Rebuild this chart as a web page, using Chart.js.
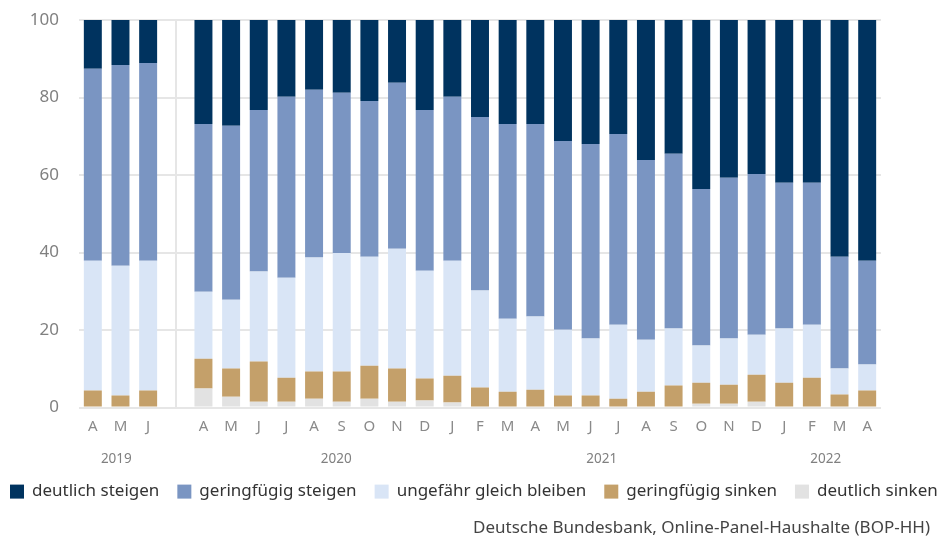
<!DOCTYPE html>
<html>
<head>
<meta charset="utf-8">
<script src="https://cdn.jsdelivr.net/npm/chart.js@4/dist/chart.umd.min.js"></script>
<style>
  html, body { margin: 0; padding: 0; background: #fff; }
  #wrap { width: 939px; height: 540px; }
</style>
</head>
<body>
<div id="wrap"><canvas id="chart"></canvas></div>
<script>
// Monate (leere Kategorie = Lücke zwischen 2019 und 2020)
const months = ["A", "M", "J", "", "A", "M", "J", "J", "A", "S", "O", "N", "D",
  "J", "F", "M", "A", "M", "J", "J", "A", "S", "O", "N", "D", "J", "F", "M", "A"];
const years = ["2019", "2020", "2021", "2022"];
const yTicks = [0, 20, 40, 60, 80, 100];

// Anteile in %, von unten nach oben gestapelt
const deutlichSinken = [0, 0, 0, null, 4.9, 2.8, 1.5, 1.5, 2.3, 1.5, 2.3, 1.5, 1.8,
  1.3, 0, 0, 0, 0, 0, 0, 0, 0, 1.0, 1.0, 1.5, 0, 0, 0, 0];
const geringSinken = [4.4, 3.1, 4.4, null, 7.7, 7.3, 10.4, 6.2, 7.0, 7.8, 8.5, 8.6, 5.7,
  6.9, 5.2, 4.1, 4.6, 3.1, 3.1, 2.3, 4.1, 5.7, 5.4, 4.9, 7.0, 6.4, 7.7, 3.4, 4.4];
const gleich = [33.5, 33.5, 33.5, null, 17.3, 17.7, 23.2, 25.8, 29.4, 30.6, 28.1, 30.9, 27.8,
  29.7, 25.0, 18.8, 18.9, 17.0, 14.7, 19.1, 13.4, 14.7, 9.6, 11.9, 10.3, 14.0, 13.7, 6.7, 6.7];
const geringSteigen = [49.5, 51.8, 51.0, null, 43.3, 44.9, 41.7, 46.7, 43.3, 41.3, 40.2, 42.8, 41.5,
  42.3, 44.8, 50.3, 49.7, 48.7, 50.2, 49.2, 46.4, 45.1, 40.4, 41.5, 41.5, 37.6, 36.6, 28.8, 26.8];
const deutlichSteigen = [12.6, 11.6, 11.1, null, 26.8, 27.3, 23.2, 19.8, 18.0, 18.8, 20.9, 16.2, 23.2,
  19.8, 25.0, 26.8, 26.8, 31.2, 32.0, 29.4, 36.1, 34.5, 43.6, 40.7, 39.7, 42.0, 42.0, 61.1, 62.1];

const FONT = "'Noto Sans', 'Open Sans', sans-serif";

// Jahresbeschriftung unter den Monaten (Position als Kategorie-Index)
const yearAt = [0.85, 8.8, 18.4, 26.5];
const yearPlugin = {
  id: "years",
  afterDraw(chart) {
    const x = chart.scales.x;
    const c = chart.ctx;
    c.save();
    c.font = "13.5px " + FONT;
    c.fillStyle = "#808080";
    c.textAlign = "center";
    c.textBaseline = "middle";
    years.forEach((y, i) => {
      c.fillText(y, x.getPixelForValue(yearAt[i]), x.bottom - 10);
    });
    c.restore();
  }
};

// Legende in einer Zeile (die eingebaute bricht bei dieser Breite um)
const legendPlugin = {
  id: "rowLegend",
  afterDraw(chart) {
    const c = chart.ctx;
    const y = chart.scales.x.bottom + 22;
    let x = 10;
    c.save();
    c.font = "17px " + FONT;
    c.textBaseline = "middle";
    c.textAlign = "left";
    chart.data.datasets.slice().reverse().forEach((ds) => {
      c.fillStyle = ds.backgroundColor;
      c.fillRect(x, y - 7, 14, 14);
      x += 14 + 8;
      c.fillStyle = "#333";
      c.fillText(ds.label, x, y);
      x += c.measureText(ds.label).width + 18;
    });
    c.restore();
  }
};

new Chart(document.getElementById("chart"), {
  type: "bar",
  data: {
    labels: months,
    datasets: [
      { label: "deutlich sinken", data: deutlichSinken, backgroundColor: "#e2e2e2" },
      { label: "geringfügig sinken", data: geringSinken, backgroundColor: "#c4a06a" },
      { label: "ungefähr gleich bleiben", data: gleich, backgroundColor: "#d9e5f6" },
      { label: "geringfügig steigen", data: geringSteigen, backgroundColor: "#7a95c2" },
      { label: "deutlich steigen", data: deutlichSteigen, backgroundColor: "#00335f" }
    ]
  },
  plugins: [yearPlugin, legendPlugin],
  options: {
    responsive: true,
    maintainAspectRatio: false,
    animation: false,
    datasets: { bar: { barPercentage: 0.65, categoryPercentage: 1 } },
    layout: { padding: { top: 0, left: 0, right: 9, bottom: 0 } },
    scales: {
      x: {
        stacked: true,
        grid: {
          offset: false,
          drawTicks: false,
          color: (ctx) => (months[ctx.index] === "" ? "#e6e6e6" : "transparent"),
          lineWidth: 2
        },
        border: { display: false },
        ticks: { color: "#8a8a8a", font: { family: FONT, size: 15 }, padding: 10, autoSkip: false, maxRotation: 0 },
        afterFit: (s) => { s.height = 62; }
      },
      y: {
        stacked: true,
        min: 0,
        max: 100,
        afterBuildTicks: (s) => { s.ticks = yTicks.map((v) => ({ value: v })); },
        grid: { color: "#e6e6e6", lineWidth: 2, drawTicks: false },
        border: { display: false },
        ticks: { color: "#808080", font: { family: FONT, size: 17 }, padding: 20 },
        afterFit: (s) => { s.width = 79; s.paddingTop = 20; s.paddingBottom = 0; }
      },
      yR: {
        position: "right",
        display: true,
        grid: { display: false, drawTicks: false },
        border: { display: false },
        ticks: { display: false },
        afterFit: (s) => { s.width = 49; s.paddingTop = 0; s.paddingBottom = 0; }
      }
    },
    plugins: {
      legend: { display: false },
      subtitle: {
        display: true,
        position: "bottom",
        align: "end",
        text: "Deutsche Bundesbank, Online-Panel-Haushalte (BOP-HH)",
        color: "#444",
        font: { family: FONT, size: 17, weight: "normal" },
        padding: { top: 48, bottom: 2 }
      },
      tooltip: { enabled: false }
    }
  }
});
</script>
</body>
</html>
